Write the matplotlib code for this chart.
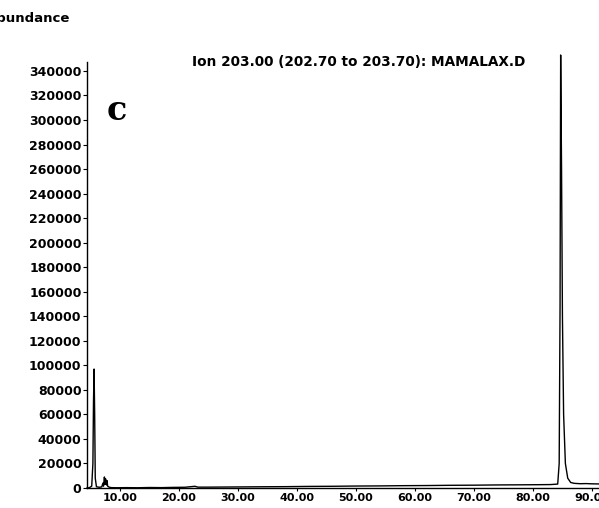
import matplotlib
matplotlib.use("Agg")
import matplotlib.pyplot as plt

# Chromatogram trace (retention time in min, abundance)
time = [4.4, 4.8, 5.2, 5.4, 5.5, 5.6, 5.7, 5.8, 6.0, 6.5, 6.9, 7.1, 7.2, 7.35, 7.45,
        7.55, 7.7, 7.8, 7.9, 8.1, 8.5, 9.5, 11.0, 13.0, 15.0, 17.0, 19.0, 21.0, 22.7,
        23.2, 25.0, 28.0, 31.0, 34.0, 38.0, 42.0, 46.0, 50.0, 54.0, 58.0, 62.0, 66.0,
        70.0, 74.0, 78.0, 81.0, 83.0, 84.2, 84.45, 84.6, 84.7, 84.85, 85.0, 85.2,
        85.5, 85.9, 86.4, 87.0, 88.0, 89.0, 90.0, 91.2]
abundance = [0, 300, 1500, 20000, 70000, 97000, 60000, 8000, 1000, 600, 900, 4000, 1500,
             9000, 3000, 7500, 2500, 6000, 1500, 800, 300, 200, 300, 200, 400, 300,
             500, 600, 1400, 700, 700, 800, 900, 1000, 1100, 1300, 1400, 1600, 1700,
             1900, 2000, 2200, 2300, 2500, 2600, 2700, 2800, 3200, 20000, 150000, 353000,
             260000, 140000, 60000, 20000, 8000, 4500, 3800, 3500, 3600, 3400, 3300]

y_ticks = [0, 20000, 40000, 60000, 80000, 100000, 120000, 140000, 160000, 180000,
           200000, 220000, 240000, 260000, 280000, 300000, 320000, 340000]
x_ticks = [10, 20, 30, 40, 50, 60, 70, 80, 90]
x_tick_labels = ["10.00", "20.00", "30.00", "40.00", "50.00", "60.00", "70.00", "80.00", "90.00"]

title_text = "Ion 203.00 (202.70 to 203.70): MAMALAX.D"
panel_label = "c"
y_label = "Abundance"

W, H = 599, 508
fig = plt.figure(figsize=(W / 100, H / 100), dpi=100)
ax = fig.add_axes([87 / W, 20 / H, 1 - 87 / W, (488 - 62) / H])

ax.plot(time, abundance, color="black", linewidth=1.0, clip_on=False, zorder=3)

ax.set_xlim(4.4, 91.2)
ax.set_ylim(0, 347300)

ax.set_yticks(y_ticks)
ax.set_yticklabels([str(v) for v in y_ticks], fontsize=9, fontweight="bold")
ax.set_xticks(x_ticks)
ax.set_xticklabels(x_tick_labels, fontsize=8, fontweight="bold")
ax.tick_params(axis="y", direction="out", length=3, width=0.8, pad=1)
ax.tick_params(axis="x", direction="out", length=2, width=0.8, pad=1.5)

for s in ["top", "right"]:
    ax.spines[s].set_visible(False)
ax.spines["left"].set_linewidth(1.0)
ax.spines["bottom"].set_linewidth(1.0)

fig.text(70 / W, 1 - 19 / H, y_label, ha="right", va="center", fontsize=9.5, fontweight="bold")
fig.text(359 / W, 1 - 62 / H, title_text, ha="center", va="center", fontsize=9.8, fontweight="bold")
fig.text(117 / W, 1 - 111 / H, panel_label, ha="center", va="center", fontsize=24,
         fontweight="bold", family="DejaVu Serif")

fig.savefig("out.png", dpi=100)
